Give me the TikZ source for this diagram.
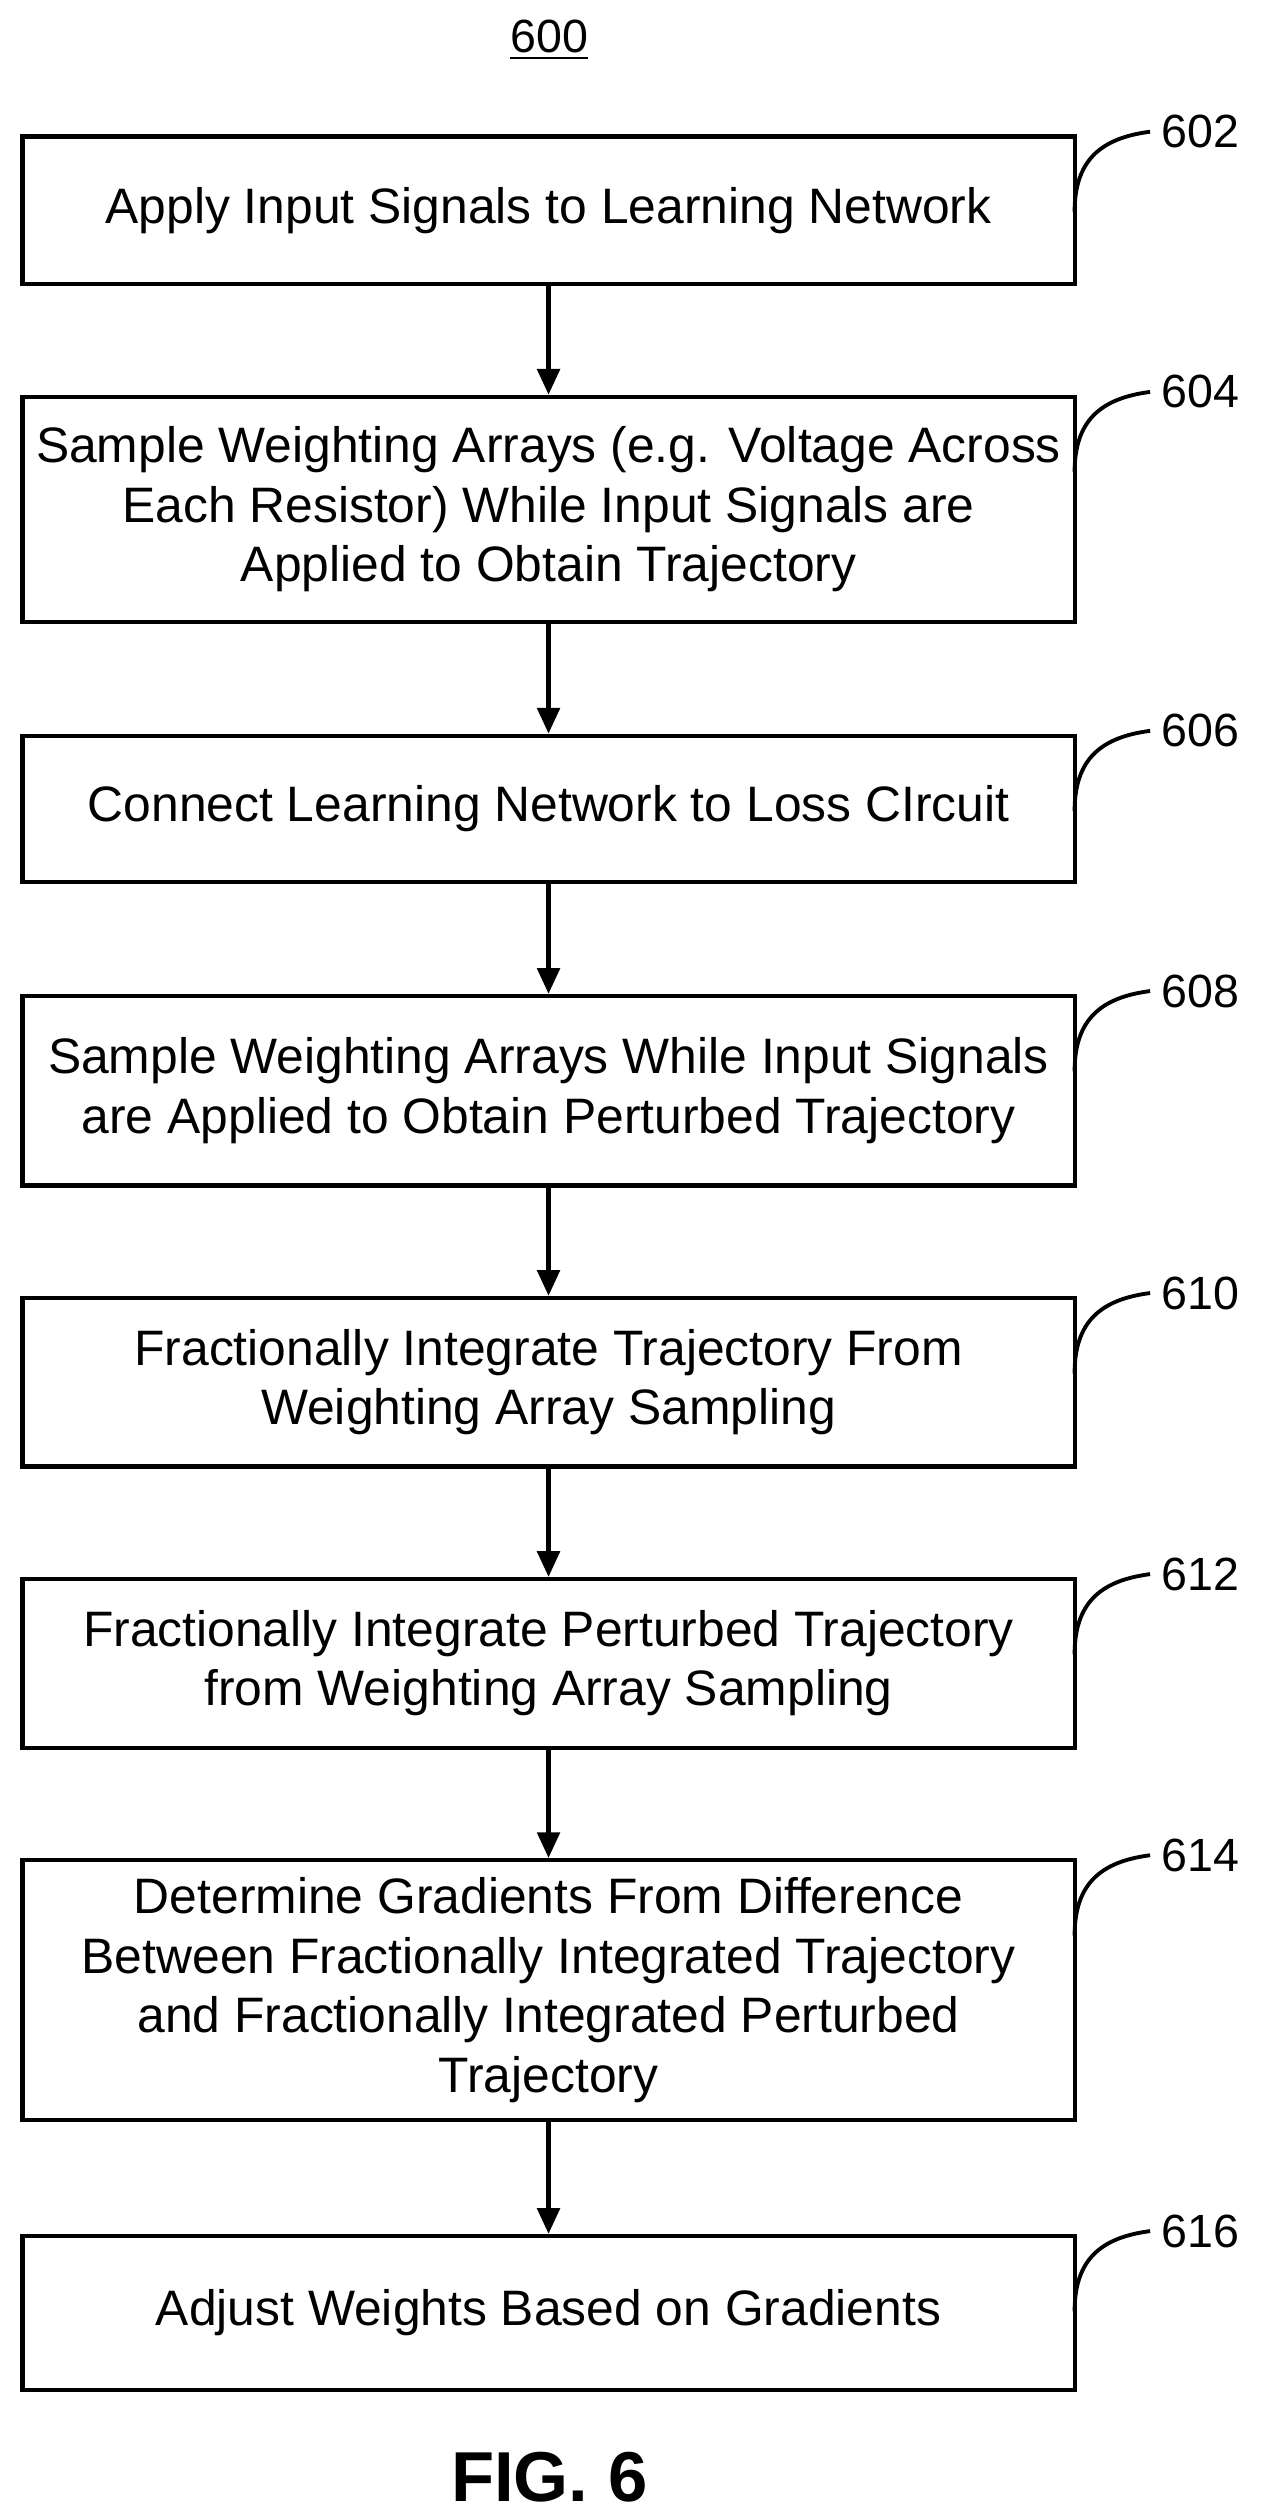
\documentclass[tikz,border=0pt]{standalone}
\usepackage{fontspec}
\setmainfont{Liberation Sans}
\usetikzlibrary{arrows.meta}
\begin{document}
\begin{tikzpicture}[x=0.5pt,y=-0.5pt,
  box/.style={draw,line width=1.3pt,minimum width=327.5pt,inner sep=0pt,align=center,font=\fontsize{15.5}{18.5}\selectfont},
  arr/.style={line width=1.3pt,-{Triangle[length=8pt,width=7pt]}},
  lead/.style={line width=1.2pt},
  num/.style={font=\fontsize{14.5}{16}\selectfont}]
\useasboundingbox (0,0) rectangle (800,1567);
\node[num] (t600) at (342,25) {\underline{600}};
\node[box,minimum height=46pt] (b602) at (341.5,131) {Apply Input Signals to Learning Network};
\node[box,minimum height=70pt] (b604) at (341.5,317) {Sample Weighting Arrays (e.g. Voltage Across\\Each Resistor) While Input Signals are\\Applied to Obtain Trajectory};
\node[box,minimum height=45.5pt] (b606) at (341.5,503.5) {Connect Learning Network to Loss CIrcuit};
\node[box,minimum height=59pt] (b608) at (341.5,679) {Sample Weighting Arrays While Input Signals\\are Applied to Obtain Perturbed Trajectory};
\node[box,minimum height=52.5pt] (b610) at (341.5,860.5) {Fractionally Integrate Trajectory From\\Weighting Array Sampling};
\node[box,minimum height=52.5pt] (b612) at (341.5,1035.5) {Fractionally Integrate Perturbed Trajectory\\from Weighting Array Sampling};
\node[box,minimum height=81pt] (b614) at (341.5,1239) {Determine Gradients From Difference\\Between Fractionally Integrated Trajectory\\and Fractionally Integrated Perturbed\\Trajectory};
\node[box,minimum height=48pt] (b616) at (341.5,1440) {Adjust Weights Based on Gradients};
\node[font=\bfseries\fontsize{22}{24}\selectfont] (fig) at (342,1542) {FIG. 6};
\foreach \a/\b in {b602/b604,b604/b606,b606/b608,b608/b610,b610/b612,b612/b614,b614/b616}
  \draw[arr] (\a.south) -- (\b.north);
\foreach \n/\t in {602/85,604/247,606/458,608/620,610/808,612/983,614/1158,616/1392}{
  \node[num,anchor=west] (l\n) at (716,\t-3) {\n};
  \coordinate (c\n) at (669,\t+47);
  \draw[lead] (c\n) .. controls (669,\t+15) and (685,\t+1) .. (l\n.west);
}
\end{tikzpicture}
\end{document}
